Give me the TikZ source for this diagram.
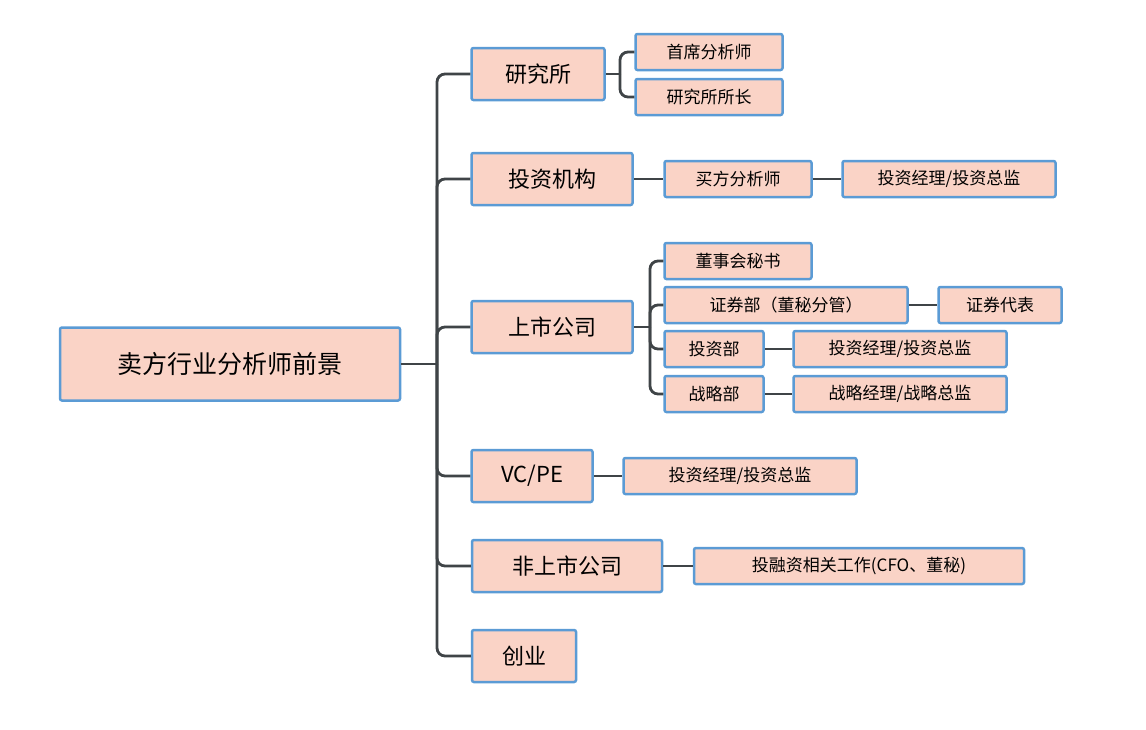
\documentclass[tikz,border=0pt]{standalone}
\usepackage{fontspec}
\newfontfamily\cjk{Noto Sans CJK SC}
\definecolor{boxfill}{HTML}{FAD3C6}
\definecolor{boxline}{HTML}{5B9BD5}
\definecolor{conn}{HTML}{3F4447}
\begin{document}
\begin{tikzpicture}[x=1pt,y=-1pt,
  box/.style={draw=boxline,line width=2.5pt,fill=boxfill,rounded corners=2pt,inner sep=0pt,font=\cjk},
  big/.style={box,minimum height=52pt,font=\cjk\fontsize{22}{24}\selectfont},
  sm/.style={box,minimum height=36pt,font=\cjk\fontsize{17}{19}\selectfont},
  ln/.style={draw=conn,line width=2.8pt,rounded corners=8pt}]
\useasboundingbox (0,0) rectangle (1146,729);
\node[box,minimum width=340pt,minimum height=73pt,font=\cjk\fontsize{25}{28}\selectfont] (root) at (230,364) {卖方行业分析师前景};
\node[big,minimum width=133pt] (a) at (538,74) {研究所};
\node[big,minimum width=161pt] (b) at (552,179) {投资机构};
\node[big,minimum width=161pt] (c) at (552,327) {上市公司};
\node[big,minimum width=121pt] (d) at (532,476) {VC/PE};
\node[big,minimum width=190pt] (e) at (567,566) {非上市公司};
\node[big,minimum width=104pt] (f) at (524,656) {创业};
\node[sm,minimum width=147pt] (a1) at (709,52) {首席分析师};
\node[sm,minimum width=147pt] (a2) at (709,97) {研究所所长};
\node[sm,minimum width=147pt] (b1) at (738,179) {买方分析师};
\node[sm,minimum width=213pt] (b2) at (949,179) {投资经理/投资总监};
\node[sm,minimum width=147pt] (c1) at (738,261) {董事会秘书};
\node[sm,minimum width=243pt] (c2) at (786,305) {证券部（董秘分管）};
\node[sm,minimum width=123pt] (c2a) at (1000,305) {证券代表};
\node[sm,minimum width=99pt] (c3) at (714,349) {投资部};
\node[sm,minimum width=213pt] (c3a) at (900,349) {投资经理/投资总监};
\node[sm,minimum width=99pt] (c4) at (714,394) {战略部};
\node[sm,minimum width=213pt] (c4a) at (900,394) {战略经理/战略总监};
\node[sm,minimum width=233pt] (d1) at (740,476) {投资经理/投资总监};
\node[sm,minimum width=330pt] (e1) at (859,566) {投融资相关工作(CFO、董秘)};
\coordinate (t) at (437,364);
\coordinate (ta) at (620,74);
\coordinate (tc) at (650,327);
\begin{scope}[on background layer/.try]
\draw[ln] (root) -- (t);
\foreach \n in {a,b,c,d,e,f} \draw[ln] (t) |- (\n.west);
\draw[ln] (a) -- (ta);
\draw[ln] (ta) |- (a1.west);
\draw[ln] (ta) |- (a2.west);
\draw[ln] (c) -- (tc);
\foreach \n in {c1,c2,c3,c4} \draw[ln] (tc) |- (\n.west);
\draw[ln] (b) -- (b1); \draw[ln] (b1) -- (b2);
\draw[ln] (c2) -- (c2a); \draw[ln] (c3) -- (c3a); \draw[ln] (c4) -- (c4a);
\draw[ln] (d) -- (d1); \draw[ln] (e) -- (e1);
\end{scope}
\end{tikzpicture}
\end{document}
